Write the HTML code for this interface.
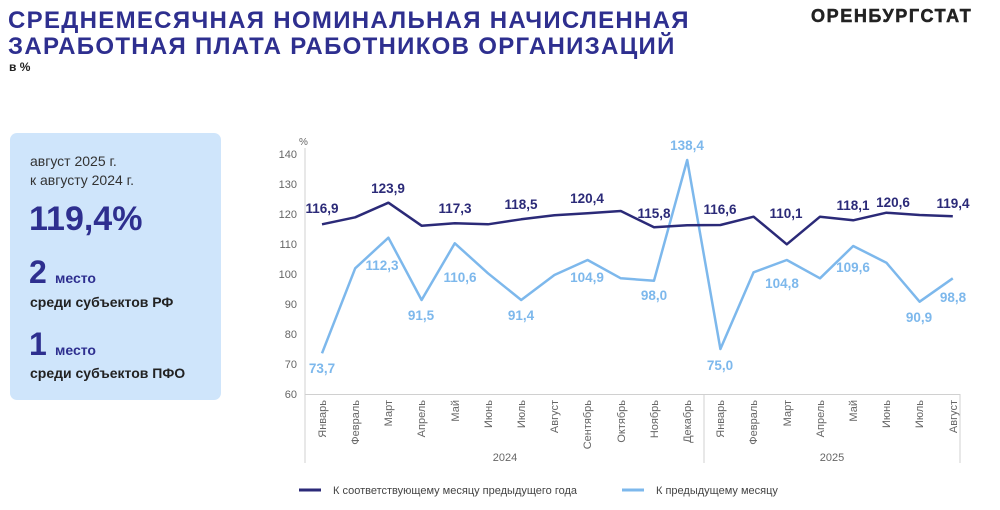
<!DOCTYPE html><html><head><meta charset="utf-8"><style>body{margin:0;background:#fff;width:1000px;height:505px;overflow:hidden;font-family:"Liberation Sans",sans-serif}</style></head><body>
<svg width="1000" height="505" xmlns="http://www.w3.org/2000/svg" font-family="Liberation Sans, sans-serif">
<text x="8" y="28" font-size="24" font-weight="bold" fill="#2e2f8f" letter-spacing="1.3">СРЕДНЕМЕСЯЧНАЯ НОМИНАЛЬНАЯ НАЧИСЛЕННАЯ</text>
<text x="8" y="54" font-size="24" font-weight="bold" fill="#2e2f8f" letter-spacing="1.3">ЗАРАБОТНАЯ ПЛАТА РАБОТНИКОВ ОРГАНИЗАЦИЙ</text>
<text x="9" y="71" font-size="12" font-weight="bold" fill="#222">в %</text>
<text x="811" y="22" font-size="18" font-weight="bold" fill="#222" letter-spacing="1.6" stroke="#222" stroke-width="0.5">ОРЕНБУРГСТАТ</text>
<rect x="10" y="133" width="211" height="267" rx="7" fill="#cfe5fb"/>
<text x="30" y="166" font-size="14" fill="#333">август 2025 г.</text>
<text x="30" y="185" font-size="14" fill="#333">к августу 2024 г.</text>
<text x="29" y="230" font-size="34" font-weight="bold" fill="#2e2f8f">119,4%</text>
<text x="29" y="283" font-size="32" font-weight="bold" fill="#2e2f8f">2</text>
<text x="55" y="283" font-size="14" font-weight="bold" fill="#2e2f8f">место</text>
<text x="30" y="307" font-size="14" font-weight="bold" fill="#222">среди субъектов РФ</text>
<text x="29" y="355" font-size="32" font-weight="bold" fill="#2e2f8f">1</text>
<text x="55" y="355" font-size="14" font-weight="bold" fill="#2e2f8f">место</text>
<text x="30" y="378" font-size="14" font-weight="bold" fill="#222">среди субъектов ПФО</text>
<g font-size="11" fill="#666" text-anchor="end">
<text x="297" y="158">140</text><text x="297" y="188">130</text><text x="297" y="218">120</text><text x="297" y="248">110</text><text x="297" y="278">100</text><text x="297" y="308">90</text><text x="297" y="338">80</text><text x="297" y="368">70</text><text x="297" y="398">60</text>
</g>
<text x="299" y="145" font-size="10" fill="#666">%</text>
<g stroke="#d0d0d0" stroke-width="1"><line x1="305" y1="148" x2="305" y2="394"/><line x1="305" y1="394.5" x2="960" y2="394.5"/>
<line x1="305" y1="394" x2="305" y2="463"/><line x1="704" y1="394" x2="704" y2="463"/><line x1="960" y1="394" x2="960" y2="463"/></g>
<g font-size="11" fill="#666" text-anchor="end">
<text transform="translate(326,400) rotate(-90)">Январь</text>
<text transform="translate(359,400) rotate(-90)">Февраль</text>
<text transform="translate(392,400) rotate(-90)">Март</text>
<text transform="translate(425,400) rotate(-90)">Апрель</text>
<text transform="translate(459,400) rotate(-90)">Май</text>
<text transform="translate(492,400) rotate(-90)">Июнь</text>
<text transform="translate(525,400) rotate(-90)">Июль</text>
<text transform="translate(558,400) rotate(-90)">Август</text>
<text transform="translate(591,400) rotate(-90)">Сентябрь</text>
<text transform="translate(625,400) rotate(-90)">Октябрь</text>
<text transform="translate(658,400) rotate(-90)">Ноябрь</text>
<text transform="translate(691,400) rotate(-90)">Декабрь</text>
<text transform="translate(724,400) rotate(-90)">Январь</text>
<text transform="translate(757,400) rotate(-90)">Февраль</text>
<text transform="translate(791,400) rotate(-90)">Март</text>
<text transform="translate(824,400) rotate(-90)">Апрель</text>
<text transform="translate(857,400) rotate(-90)">Май</text>
<text transform="translate(890,400) rotate(-90)">Июнь</text>
<text transform="translate(923,400) rotate(-90)">Июль</text>
<text transform="translate(957,400) rotate(-90)">Август</text>
</g>
<text x="505" y="461" font-size="11" fill="#666" text-anchor="middle">2024</text>
<text x="832" y="461" font-size="11" fill="#666" text-anchor="middle">2025</text>
<polyline fill="none" stroke="#7db8ec" stroke-width="2.5" stroke-linejoin="round" points="322,353.3 355.2,268.3 388.4,237.7 421.6,300 454.8,243.3 488,273.3 521.2,300 554.4,275 587.6,260 620.8,278.3 654,280.7 687.2,160 720.4,349 753.6,272.3 786.8,260 820,278.3 853.2,246 886.4,262.7 919.6,301.7 952.8,278.3"/>
<polyline fill="none" stroke="#2b2a78" stroke-width="2.5" stroke-linejoin="round" points="322,224.3 355.2,217.3 388.4,202.7 421.6,225.7 454.8,223.3 488,224.3 521.2,219.3 554.4,215.3 587.6,213.3 620.8,211 654,227.3 687.2,225.3 720.4,225 753.6,216.7 786.8,244.3 820,216.7 853.2,220.3 886.4,212.7 919.6,215 952.8,216.3"/>
<g font-size="13.5" font-weight="bold" fill="#2b2a78" text-anchor="middle">
<text x="322" y="213">116,9</text><text x="388" y="193">123,9</text><text x="455" y="213">117,3</text><text x="521" y="209">118,5</text><text x="587" y="203">120,4</text><text x="654" y="218">115,8</text><text x="720" y="214">116,6</text><text x="786" y="218">110,1</text><text x="853" y="210">118,1</text><text x="893" y="207">120,6</text><text x="953" y="208">119,4</text>
</g>
<g font-size="13.5" font-weight="bold" fill="#7db8ec" text-anchor="middle">
<text x="322" y="373">73,7</text><text x="382" y="270">112,3</text><text x="421" y="320">91,5</text><text x="460" y="282">110,6</text><text x="521" y="320">91,4</text><text x="587" y="282">104,9</text><text x="654" y="300">98,0</text><text x="687" y="150">138,4</text><text x="720" y="370">75,0</text><text x="782" y="288">104,8</text><text x="853" y="272">109,6</text><text x="919" y="322">90,9</text><text x="953" y="302">98,8</text>
</g>
<line x1="299" y1="490" x2="321" y2="490" stroke="#2b2a78" stroke-width="3"/>
<text x="333" y="494" font-size="11" fill="#444">К соответствующему месяцу предыдущего года</text>
<line x1="622" y1="490" x2="644" y2="490" stroke="#7db8ec" stroke-width="3"/>
<text x="656" y="494" font-size="11" fill="#444">К предыдущему месяцу</text>
</svg></body></html>
